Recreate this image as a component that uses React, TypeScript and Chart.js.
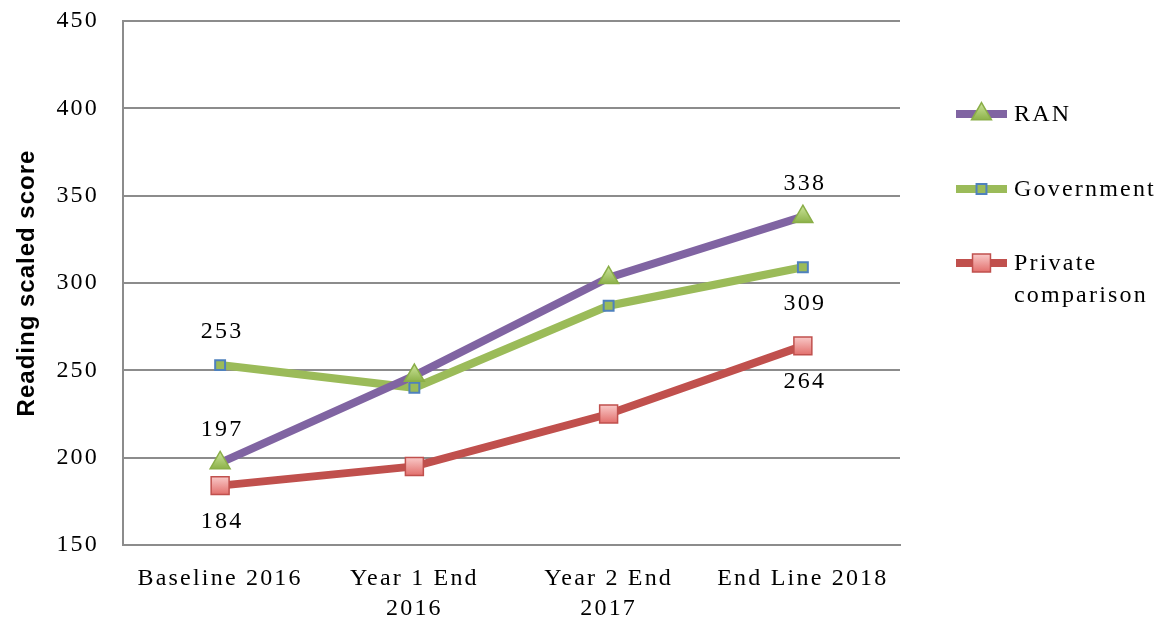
import React, { useEffect, useRef } from "react";
import { Chart, registerables } from "chart.js";

Chart.register(...registerables);

// ---------- data ----------
const categories: string[][] = [
  ["Baseline 2016"],
  ["Year 1 End", "2016"],
  ["Year 2 End", "2017"],
  ["End Line 2018"],
];
const ranValues = [197, 247, 303, 338];
const governmentValues = [253, 240, 287, 309];
const privateValues = [184, 195, 225, 264];
const seriesNames = ["RAN", "Government", "Private comparison"];
const yMin = 150;
const yMax = 450;
const yStep = 50;
const yTitle = "Reading scaled score";
// which points carry a value label (first and last)
const labelledIndexes = [0, 3];

// ---------- styles ----------
const SERIF = "'Liberation Serif', 'DejaVu Serif', serif";
const SANS = "'Liberation Sans', Arial, sans-serif";
const FONT_SIZE = 24;
const SPACING = "2.2px";
const GRID = "#8C8C8C";
const PURPLE = "#8064A2";
const GREEN = "#9BBB59";
const RED = "#C0504D";
const BLUE = "#4F81BD";

type MarkerKind = "triangle" | "smallSquare" | "bigSquare";
const markerKinds: MarkerKind[] = ["triangle", "smallSquare", "bigSquare"];
const lineColors = [PURPLE, GREEN, RED];
const labelPlaces: ("above" | "below")[][] = [
  ["above", "above"],
  ["above", "below"],
  ["below", "below"],
];

function markerRadius(kind: MarkerKind) {
  if (kind === "triangle") return 11.5;
  if (kind === "smallSquare") return 7;
  return 12.7;
}

function markerFill(ctx: CanvasRenderingContext2D, kind: MarkerKind, y: number): any {
  const r = markerRadius(kind);
  if (!Number.isFinite(y)) return kind === "bigSquare" ? "#F0A0A0" : GREEN;
  if (kind === "triangle") {
    const g = ctx.createLinearGradient(0, y - r, 0, y + r / 2);
    g.addColorStop(0, "#CDE59C");
    g.addColorStop(1, "#8DB24A");
    return g;
  }
  if (kind === "bigSquare") {
    const s = r * Math.SQRT1_2;
    const g = ctx.createLinearGradient(0, y - s, 0, y + s);
    g.addColorStop(0, "#F9C9C8");
    g.addColorStop(1, "#E26F6C");
    return g;
  }
  return GREEN;
}

function markerBorder(kind: MarkerKind) {
  if (kind === "triangle") return "#8AAE48";
  if (kind === "smallSquare") return BLUE;
  return RED;
}

function pointStyleOf(kind: MarkerKind) {
  return kind === "triangle" ? "triangle" : "rect";
}

function drawMarker(ctx: CanvasRenderingContext2D, kind: MarkerKind, x: number, y: number) {
  const r = markerRadius(kind);
  ctx.save();
  ctx.beginPath();
  if (kind === "triangle") {
    let rad = 0;
    ctx.moveTo(x + Math.sin(rad) * r, y - Math.cos(rad) * r);
    rad += (2 * Math.PI) / 3;
    ctx.lineTo(x + Math.sin(rad) * r, y - Math.cos(rad) * r);
    rad += (2 * Math.PI) / 3;
    ctx.lineTo(x + Math.sin(rad) * r, y - Math.cos(rad) * r);
    ctx.closePath();
  } else {
    const s = r * Math.SQRT1_2;
    ctx.rect(x - s, y - s, 2 * s, 2 * s);
  }
  ctx.fillStyle = markerFill(ctx, kind, y);
  ctx.fill();
  ctx.lineWidth = kind === "smallSquare" ? 2 : 1.5;
  ctx.strokeStyle = markerBorder(kind);
  ctx.stroke();
  ctx.restore();
}

const spacingPlugin = {
  id: "spacing",
  beforeDraw(chart: any) {
    (chart.ctx as any).letterSpacing = SPACING;
  },
};

const valueLabelPlugin = {
  id: "valueLabels",
  afterDatasetsDraw(chart: any) {
    const ctx: CanvasRenderingContext2D = chart.ctx;
    ctx.save();
    ctx.font = `${FONT_SIZE}px ${SERIF}`;
    (ctx as any).letterSpacing = SPACING;
    ctx.fillStyle = "#000";
    ctx.textAlign = "center";
    ctx.textBaseline = "middle";
    chart.data.datasets.forEach((ds: any, di: number) => {
      const meta = chart.getDatasetMeta(di);
      labelledIndexes.forEach((idx, k) => {
        const pt = meta.data[idx];
        if (!pt) return;
        const dy = labelPlaces[di][k] === "above" ? -33 : 36;
        ctx.fillText(String(ds.data[idx]), pt.x + 2, pt.y + dy);
      });
    });
    ctx.restore();
  },
};

const legendAndTitlePlugin = {
  id: "legendAndTitle",
  afterDraw(chart: any) {
    const ctx: CanvasRenderingContext2D = chart.ctx;
    const rows = [114, 189, 263];
    ctx.save();
    seriesNames.forEach((name, i) => {
      const y = rows[i];
      ctx.beginPath();
      ctx.moveTo(956, y);
      ctx.lineTo(1007, y);
      ctx.lineWidth = 8;
      ctx.strokeStyle = lineColors[i];
      ctx.stroke();
      drawMarker(ctx, markerKinds[i], 981.5, y);
      ctx.font = `${FONT_SIZE}px ${SERIF}`;
      (ctx as any).letterSpacing = SPACING;
      ctx.fillStyle = "#000";
      ctx.textAlign = "left";
      ctx.textBaseline = "middle";
      const words = name === "Private comparison" ? ["Private", "comparison"] : [name];
      words.forEach((w, k) => ctx.fillText(w, 1014, y + 1 + k * 32));
    });
    ctx.restore();

    ctx.save();
    ctx.translate(27, 283);
    ctx.rotate(-Math.PI / 2);
    ctx.font = `bold 24px ${SANS}`;
    (ctx as any).letterSpacing = "1px";
    ctx.fillStyle = "#000";
    ctx.textAlign = "center";
    ctx.textBaseline = "middle";
    ctx.fillText(yTitle, 0, 0);
    ctx.restore();
  },
};

export default function App() {
  const canvasRef = useRef<HTMLCanvasElement | null>(null);

  useEffect(() => {
    const canvas = canvasRef.current;
    if (!canvas) return;
    const seriesValues = [ranValues, governmentValues, privateValues];

    const datasets = seriesValues.map((vals, i) => {
      const kind = markerKinds[i];
      return {
        label: seriesNames[i],
        data: vals,
        borderColor: lineColors[i],
        backgroundColor: lineColors[i],
        borderWidth: 8,
        tension: 0,
        fill: false,
        pointStyle: pointStyleOf(kind),
        pointRadius: markerRadius(kind),
        pointHoverRadius: markerRadius(kind),
        pointBorderWidth: kind === "smallSquare" ? 2 : 1.5,
        pointBorderColor: markerBorder(kind),
        pointBackgroundColor: (c: any) => {
          const chart = c.chart;
          const yScale = chart.scales?.y;
          if (!yScale || !c.parsed) return markerFill(chart.ctx, kind, NaN);
          const y = yScale.getPixelForValue(c.parsed.y);
          return markerFill(chart.ctx, kind, y);
        },
      };
    });

    const chart = new Chart(canvas, {
      type: "line",
      data: { labels: categories as any, datasets: datasets as any },
      options: {
        animation: false,
        responsive: false,
        maintainAspectRatio: false,
        layout: { padding: { top: 21, right: 268, left: 0, bottom: 0 } },
        plugins: {
          legend: { display: false },
          tooltip: { enabled: false },
          title: { display: false },
        },
        scales: {
          x: {
            offset: true,
            grid: { display: false, drawTicks: false },
            border: { display: true, color: GRID, width: 2 },
            ticks: {
              color: "#000",
              font: { family: SERIF, size: FONT_SIZE, lineHeight: 1.25 },
              padding: 19,
              maxRotation: 0,
              autoSkip: false,
            },
            afterFit: (s: any) => {
              s.height = 80;
              s.paddingLeft = 0;
              s.paddingRight = 0;
            },
          },
          y: {
            min: yMin,
            max: yMax,
            grid: { color: GRID, lineWidth: 2, drawTicks: false },
            border: { display: true, color: GRID, width: 2 },
            ticks: {
              stepSize: yStep,
              color: "#000",
              font: { family: SERIF, size: FONT_SIZE },
              padding: 24,
            },
            afterFit: (s: any) => {
              s.width = 123;
              s.paddingTop = 0;
              s.paddingBottom = 0;
            },
          },
        },
      } as any,
      plugins: [spacingPlugin, valueLabelPlugin, legendAndTitlePlugin],
    });

    chart.update();

    return () => chart.destroy();
  }, []);

  return (
    <div style={{ position: "absolute", left: 0, top: 0, width: 1168, height: 625, background: "#fff" }}>
      <canvas ref={canvasRef} width={1168} height={625} style={{ width: 1168, height: 625, display: "block" }} />
    </div>
  );
}
